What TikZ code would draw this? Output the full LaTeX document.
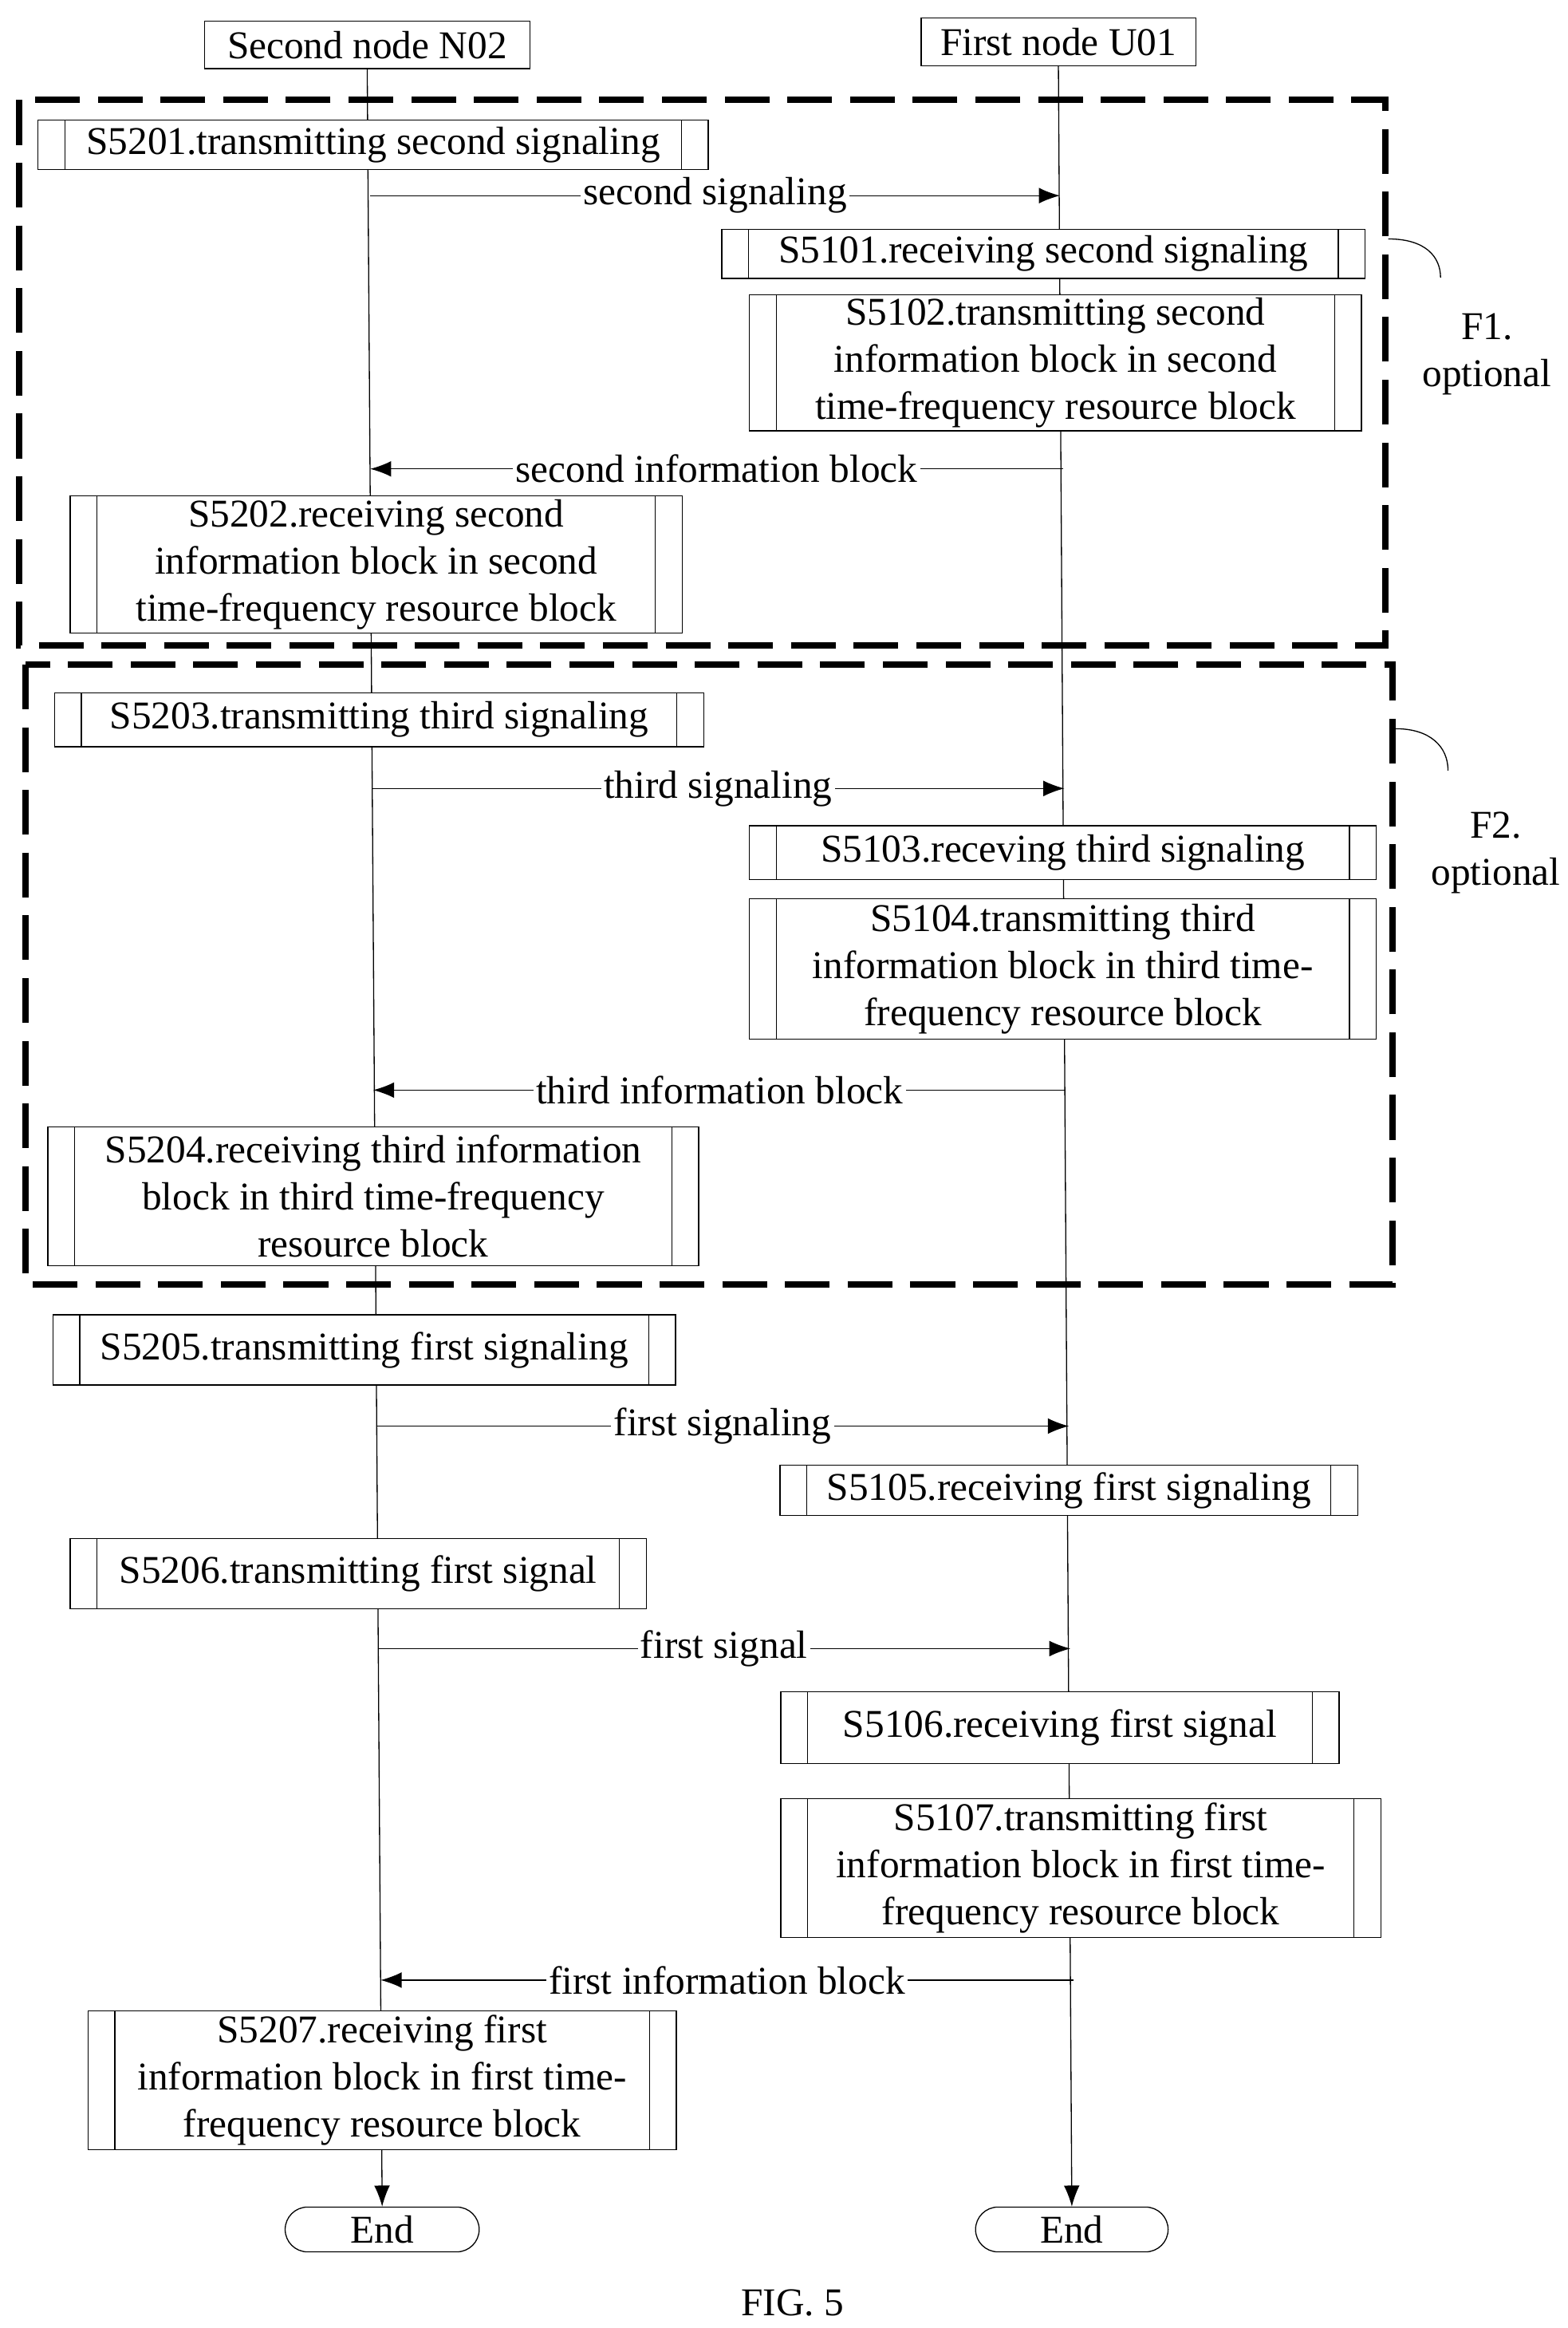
\documentclass[tikz,border=0pt]{standalone}
\usepackage{fontspec}
\setmainfont{Liberation Serif}
\usetikzlibrary{shapes.misc,arrows.meta}
\tikzset{
  procstyle/.style={rectangle, draw, fill=white, inner sep=0pt, align=center,
    path picture={\draw ([xshift=0.36cm]path picture bounding box.north west) -- ([xshift=0.36cm]path picture bounding box.south west);
                  \draw ([xshift=-0.36cm]path picture bounding box.north east) -- ([xshift=-0.36cm]path picture bounding box.south east);}},
  optbox/.style={line width=2.4pt, dash pattern=on 0.6cm off 0.24cm},
  msglabel/.style={fill=white, inner sep=1pt},
}
\newcommand{\procbox}[5] {\node at (#1) (#2) [procstyle, minimum width={#3*0.02cm}, minimum height={#4*0.02cm}] {#5};}
\newcommand{\msgarrow}[3] {\draw [-{Latex[length=8pt,width=6pt]}] (#1) -- (#2) node [midway, msglabel] {#3};}
\begin{document}
\begin{tikzpicture}[x=0.02cm, y=-0.02cm, font=\fontsize{15pt}{18pt}\selectfont]
\useasboundingbox (0,0) rectangle (1050,1559);

% option frames
\draw [optbox] (13,67) rectangle (928,432);
\draw [optbox] (17,445) rectangle (933,860);
\draw (930,160) .. controls (955,160) and (965,172) .. (965,186);
\node at (996,237) (f1) [align=center] {F1.\\optional};
\draw (935,488) .. controls (958,488) and (970,500) .. (970,516);
\node at (1002,571) (f2) [align=center] {F2.\\optional};

% lifelines
\node at (246,30) (n02) [rectangle, draw, fill=white, minimum width=4.36cm, minimum height=0.64cm, inner sep=0pt] {Second node N02};
\node at (709,28) (u01) [rectangle, draw, fill=white, minimum width=3.68cm, minimum height=0.64cm, inner sep=0pt] {First node U01};
\node at (256,1493) (endL) [rounded rectangle, draw, fill=white, minimum width=2.6cm, minimum height=0.6cm, inner sep=0pt] {End};
\node at (718,1493) (endR) [rounded rectangle, draw, fill=white, minimum width=2.58cm, minimum height=0.6cm, inner sep=0pt] {End};
\draw [-{Latex[length=8pt,width=6pt]}] (n02.south) -- (endL.north);
\draw [-{Latex[length=8pt,width=6pt]}] (u01.south) -- (endR.north);

% second node side
\procbox {250,97}{s5201}{449}{33}{S5201.transmitting second signaling}
\procbox {252,378}{s5202}{410}{92}{S5202.receiving second\\information block in second\\time-frequency resource block}
\procbox {254,482}{s5203}{435}{36}{S5203.transmitting third signaling}
\procbox {250,801}{s5204}{436}{93}{S5204.receiving third information\\block in third time-frequency\\resource block}
\procbox {244,904}{s5205}{417}{47}{S5205.transmitting first signaling}
\procbox {240,1054}{s5206}{386}{47}{S5206.transmitting first signal}
\procbox {256,1393}{s5207}{394}{93}{S5207.receiving first\\information block in first time-\\frequency resource block}

% first node side
\procbox {699,170}{s5101}{431}{33}{S5101.receiving second signaling}
\procbox {707,243}{s5102}{410}{91}{S5102.transmitting second\\information block in second\\time-frequency resource block}
\procbox {712,571}{s5103}{420}{36}{S5103.receving third signaling}
\procbox {712,649}{s5104}{420}{94}{S5104.transmitting third\\information block in third time-\\frequency resource block}
\procbox {716,998}{s5105}{387}{34}{S5105.receiving first signaling}
\procbox {710,1157}{s5106}{374}{48}{S5106.receiving first signal}
\procbox {724,1251}{s5107}{402}{93}{S5107.transmitting first\\information block in first time-\\frequency resource block}

% messages
\coordinate (m1L) at (248,131);  \coordinate (m1R) at (710,131);
\coordinate (m2L) at (248,314);  \coordinate (m2R) at (712,314);
\coordinate (m3L) at (249,528);  \coordinate (m3R) at (713,528);
\coordinate (m4L) at (250,730);  \coordinate (m4R) at (714,730);
\coordinate (m5L) at (252,955);  \coordinate (m5R) at (716,955);
\coordinate (m6L) at (253,1104); \coordinate (m6R) at (717,1104);
\coordinate (m7L) at (255,1326); \coordinate (m7R) at (719,1326);
\msgarrow {m1L}{m1R}{second signaling}
\msgarrow {m2R}{m2L}{second information block}
\msgarrow {m3L}{m3R}{third signaling}
\msgarrow {m4R}{m4L}{third information block}
\msgarrow {m5L}{m5R}{first signaling}
\msgarrow {m6L}{m6R}{first signal}
\msgarrow {m7R}{m7L}{first information block}

\node at (531,1542) (fig) {FIG. 5};
\end{tikzpicture}
\end{document}
